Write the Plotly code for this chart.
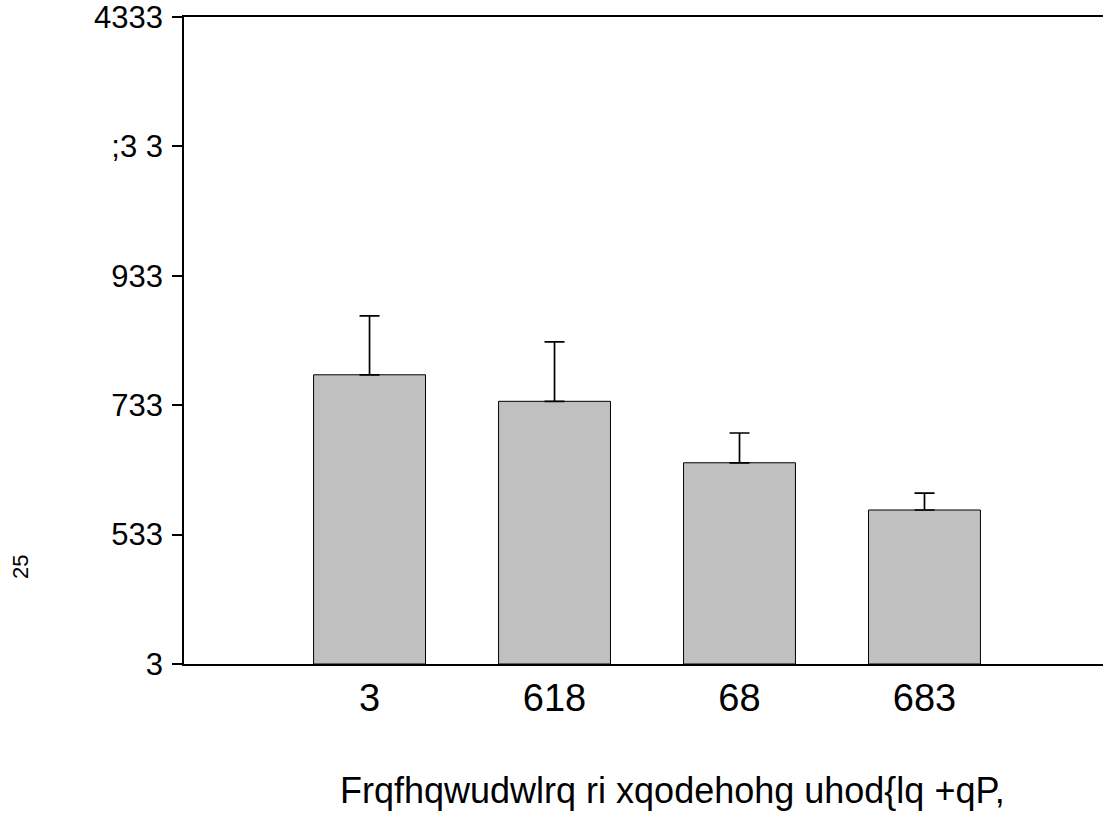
import plotly.graph_objects as go

categories = [0, 1, 2, 3]
x_tick_labels = ["3", "618", "68", "683"]
values = [447, 406, 311, 238]
errors_up = [91, 92, 46, 26]
y_tick_vals = [0, 200, 400, 600, 800, 1000]
y_tick_labels = ["3", "533", "733", "933", ";3 3", "4333"]
x_title = "Frqfhqwudwlrq ri xqodehohg uhod{lq +qP,"
y_title = "25"

fig = go.Figure()
fig.add_trace(go.Bar(
    x=categories, y=values, width=0.605,
    marker=dict(color="#c0c0c0", line=dict(color="black", width=1)),
    error_y=dict(type="data", array=errors_up, arrayminus=[0]*len(values),
                 symmetric=False, color="black", thickness=1.7, width=10),
))

fig.update_layout(
    width=1103, height=817,
    margin=dict(l=184, r=0, t=17, b=153),
    plot_bgcolor="white", paper_bgcolor="white",
    showlegend=False,
    font=dict(family="Liberation Sans, Arial, sans-serif", color="black"),
    xaxis=dict(range=[-1.003, 3.965], tickvals=categories, ticktext=x_tick_labels,
               showline=True, linecolor="black", linewidth=1.5, mirror=True,
               ticks="", showgrid=False, zeroline=False,
               tickfont=dict(size=38), ticklabelstandoff=0),
    yaxis=dict(range=[0, 1000], tickvals=y_tick_vals, ticktext=y_tick_labels,
               showline=True, linecolor="black", linewidth=1.5,
               ticks="outside", ticklen=10, tickwidth=1.5, tickcolor="black",
               showgrid=False, zeroline=False, tickfont=dict(size=31),
               ticklabelstandoff=3, ticklabeloverflow="allow"),
    annotations=[
        dict(text=x_title, xref="paper", yref="paper", x=(672 - 184) / 919, y=(664 - 790) / 647,
             xanchor="center", yanchor="middle", showarrow=False,
             font=dict(size=36)),
        dict(text=y_title, xref="paper", yref="paper", x=(20 - 184) / 919, y=(664 - 567) / 647,
             xanchor="center", yanchor="middle", showarrow=False, textangle=-90,
             font=dict(size=22)),
    ],
)

fig.write_html("out.html", config={"displayModeBar": False},
               post_script="document.body.style.margin='0';")
